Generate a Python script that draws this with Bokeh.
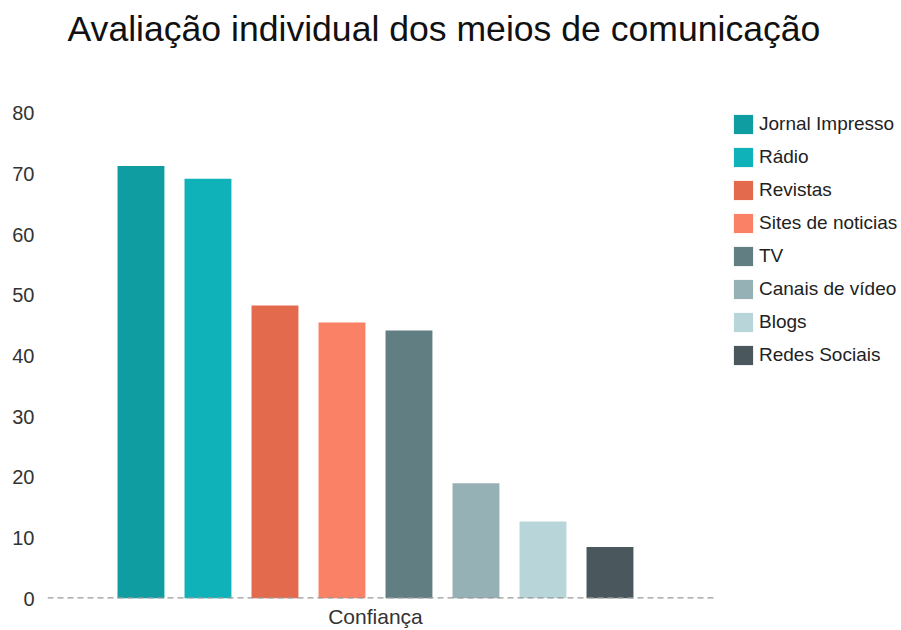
from bokeh.plotting import figure
from bokeh.models import (ColumnDataSource, Range1d, FixedTicker, Segment,
                          Legend, LegendItem)
from bokeh.embed import file_html
from bokeh.resources import INLINE

# ---- data ----
names = ["Jornal Impresso", "Rádio", "Revistas", "Sites de noticias", "TV",
         "Canais de vídeo", "Blogs", "Redes Sociais"]
values = [71.3, 69.2, 48.3, 45.5, 44.2, 19.0, 12.7, 8.5]
colors = ["#0F9DA2", "#10B2BA", "#E46A4D", "#FA8165", "#617E83",
          "#96B1B6", "#B8D6DA", "#4A585D"]
group_label = "Confiança"
title_text = "Avaliação individual dos meios de comunicação"
y_ticks = [0, 10, 20, 30, 40, 50, 60, 70, 80]

xs = list(range(len(names)))
src = ColumnDataSource(dict(x=xs, top=values, name=names, color=colors))

FONT = "Liberation Sans"

# category axis extent (where the dashed baseline runs) and full frame extent
axis_start, axis_end = -1.395, 8.545
frame_end = 11.351

p = figure(width=901, height=630, output_backend="svg", toolbar_location=None,
           x_range=Range1d(axis_start, frame_end), y_range=Range1d(0, 89.86),
           min_border_left=47, min_border_right=0, min_border_top=53,
           min_border_bottom=30)
p.outline_line_color = None
p.grid.visible = False
p.background_fill_color = "white"
p.border_fill_color = "white"

r = p.vbar(x="x", top="top", width=0.70, bottom=0, color="color",
           line_color=None, source=src)

# dashed baseline along the category axis
base_src = ColumnDataSource(dict(x0=[axis_start], x1=[axis_end], y0=[0], y1=[0]))
p.add_glyph(base_src, Segment(x0="x0", y0="y0", x1="x1", y1="y1",
                              line_color="#999999", line_width=2.5,
                              line_dash="6 4"))

# title
p.title.text = title_text
p.title.align = "left"
p.title.offset = 20
p.title.text_font = FONT
p.title.text_font_size = "35.6px"
p.title.text_font_style = "normal"
p.title.text_color = "#111111"
p.title.standoff = 10

# y axis
yax = p.yaxis[0]
yax.ticker = FixedTicker(ticks=y_ticks)
yax.axis_line_color = None
yax.major_tick_line_color = None
yax.minor_tick_line_color = None
yax.major_tick_out = 0
yax.major_label_standoff = 13
yax.major_label_text_font = FONT
yax.major_label_text_font_size = "20px"
yax.major_label_text_color = "#333333"

# x axis
xax = p.xaxis[0]
center = (len(names) - 1) / 2
xax.ticker = FixedTicker(ticks=[center])
xax.major_label_overrides = {center: group_label}
xax.axis_line_color = None
xax.major_tick_line_color = None
xax.minor_tick_line_color = None
xax.major_tick_out = 0
xax.major_label_standoff = 6
xax.major_label_text_font = FONT
xax.major_label_text_font_size = "21px"
xax.major_label_text_color = "#333333"

# legend (inside the frame, to the right of the bars)
lg = Legend(items=[LegendItem(label=dict(field="name"), renderers=[r])])
lg.location = (684, 231)
lg.padding = 0
lg.margin = 0
lg.spacing = 9
lg.glyph_width = 24
lg.glyph_height = 24
lg.label_height = 24
lg.label_standoff = 4
lg.label_text_font = FONT
lg.label_text_font_size = "19px"
lg.label_text_color = "#222222"
lg.border_line_alpha = 0
lg.background_fill_alpha = 0
p.add_layout(lg, "center")

open("out.html", "w").write(file_html(p, INLINE))
